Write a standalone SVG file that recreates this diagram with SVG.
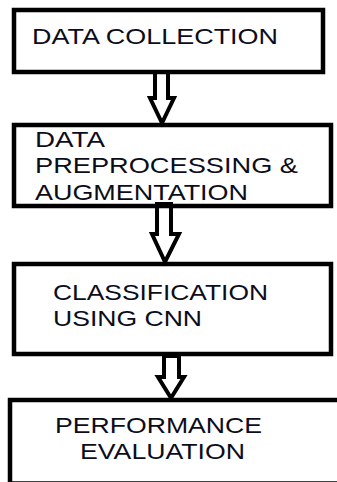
<svg xmlns="http://www.w3.org/2000/svg" width="337" height="482" viewBox="0 0 337 482">
<style>
.box{fill:none;stroke:#000;stroke-width:4.5}
.arr{fill:#fff;stroke:#000;stroke-width:4;stroke-linejoin:miter}
.t{font-family:"Liberation Sans",Arial,sans-serif;font-size:22px;fill:#0d0d1a}
</style>
<rect width="337" height="482" fill="#fff"/>
<g id="connectors">
<polygon class="arr" points="155,72 168,72 168,98 174,98 162,123 150,98 155,98"/>
<polygon class="arr" points="157,204 171,204 171,234 179,234 165,262 152,234 157,234"/>
<polygon class="arr" points="164,356 179,356 179,377 184,377 171,398 158,377 164,377"/>
</g>
<g id="n1">
<rect class="box" x="14" y="10" width="309" height="62"/>
<text class="t" x="32" y="44" textLength="246" lengthAdjust="spacingAndGlyphs">DATA COLLECTION</text>
</g>
<g id="n2">
<rect class="box" x="14" y="125" width="317" height="81"/>
<text class="t" x="35" y="147" textLength="70" lengthAdjust="spacingAndGlyphs">DATA</text>
<text class="t" x="35" y="173" textLength="263" lengthAdjust="spacingAndGlyphs">PREPROCESSING &amp;</text>
<text class="t" x="35" y="200" textLength="213" lengthAdjust="spacingAndGlyphs">AUGMENTATION</text>
</g>
<g id="n3">
<rect class="box" x="14" y="264" width="317" height="90"/>
<text class="t" x="53" y="300" textLength="215" lengthAdjust="spacingAndGlyphs">CLASSIFICATION</text>
<text class="t" x="53" y="326" textLength="149" lengthAdjust="spacingAndGlyphs">USING CNN</text>
</g>
<g id="n4">
<rect class="box" x="10" y="400" width="340" height="83.5"/>
<text class="t" x="55" y="433" textLength="207" lengthAdjust="spacingAndGlyphs">PERFORMANCE</text>
<text class="t" x="80" y="459" textLength="165" lengthAdjust="spacingAndGlyphs">EVALUATION</text>
</g>
</svg>
